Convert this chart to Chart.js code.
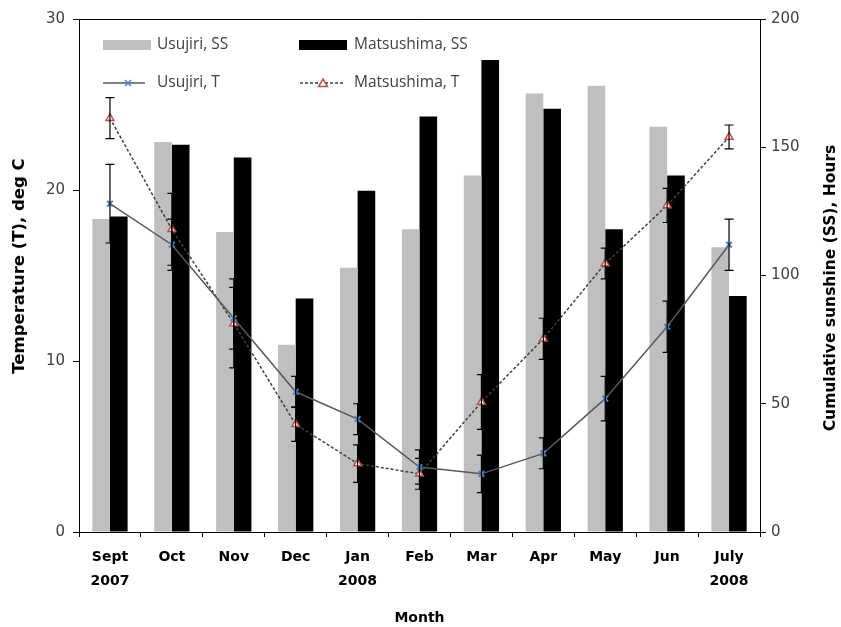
<!DOCTYPE html>
<html>
<head>
<meta charset="utf-8">
<script src="https://cdn.jsdelivr.net/npm/chart.js@4.4.1/dist/chart.umd.min.js"></script>
<style>
  html, body { margin: 0; padding: 0; background: #fff; }
  #wrap { width: 841px; height: 627px; position: relative; }
</style>
</head>
<body>
<div id="wrap"><canvas id="chart" width="841" height="627"></canvas></div>
<script>
const months = [['Sept', '2007'], 'Oct', 'Nov', 'Dec', ['Jan', '2008'], 'Feb', 'Mar', 'Apr', 'May', 'Jun', ['July', '2008']];

// sunshine, hours (right axis)
const usujiriSS    = [122, 152, 117, 73, 103, 118, 139, 171, 174, 158, 111];
const matsushimaSS = [123, 151, 146, 91, 133, 162, 184, 165, 118, 139, 92];

// temperature, deg C (left axis)
const usujiriT     = [19.2, 16.8, 12.5, 8.2, 6.6, 3.8, 3.4, 4.6, 7.8, 12.0, 16.8];
const matsushimaT  = [24.2, 17.7, 12.2, 6.3, 4.0, 3.4, 7.6, 11.3, 15.7, 19.1, 23.1];
const usujiriErr    = [2.3, 1.5, 1.8, 0.9, 0.9, 1.0, 1.1, 0.9, 1.3, 1.5, 1.5];
const matsushimaErr = [1.2, 2.1, 2.6, 1.0, 1.1, 0.9, 1.6, 1.2, 0.9, 1.0, 0.7];

const tempTicks = [0, 10, 20, 30];
const ssTicks = [0, 50, 100, 150, 200];

const TXT = '#404040';

// both axis titles read bottom to top
function vTitle(ctx, text, x, y, size) {
  ctx.save();
  ctx.translate(x, y);
  ctx.rotate(-Math.PI / 2);
  ctx.font = 'bold ' + size + 'px "DejaVu Sans"';
  ctx.fillStyle = '#000';
  ctx.textAlign = 'center';
  ctx.textBaseline = 'middle';
  ctx.fillText(text, 0, 0);
  ctx.restore();
}

// error bars, top border, axis titles
const extras = {
  id: 'extras',
  afterDatasetsDraw(chart) {
    const { ctx, chartArea: a } = chart;
    const xs = chart.scales.x, ys = chart.scales.y;
    ctx.save();
    ctx.strokeStyle = '#000';
    ctx.lineWidth = 1.2;
    [[usujiriT, usujiriErr], [matsushimaT, matsushimaErr]].forEach(([vals, errs]) => {
      vals.forEach((v, i) => {
        const px = xs.getPixelForValue(i);
        const t = ys.getPixelForValue(v + errs[i]);
        const b = ys.getPixelForValue(v - errs[i]);
        ctx.beginPath();
        ctx.moveTo(px, t); ctx.lineTo(px, b);
        ctx.moveTo(px - 4.5, t); ctx.lineTo(px + 4.5, t);
        ctx.moveTo(px - 4.5, b); ctx.lineTo(px + 4.5, b);
        ctx.stroke();
      });
    });
    ctx.lineWidth = 1;
    ctx.beginPath();
    ctx.moveTo(a.left, a.top + 0.5); ctx.lineTo(a.right, a.top + 0.5);
    ctx.stroke();
    ctx.restore();

    vTitle(ctx, 'Temperature (T), deg C', 20, 266, 16.5);
    vTitle(ctx, 'Cumulative sunshine (SS), Hours', 831, 288, 15.5);
  }
};

// legend drawn inside the plot, two rows
const legendBox = {
  id: 'legendBox',
  afterDraw(chart) {
    const ctx = chart.ctx;
    ctx.save();
    ctx.font = '15.5px "Open Sans"';
    ctx.fillStyle = TXT;
    ctx.textBaseline = 'middle';
    ctx.fillText('Usujiri, SS', 157, 45);
    ctx.fillText('Matsushima, SS', 354, 45);
    ctx.fillText('Usujiri, T', 157, 83);
    ctx.fillText('Matsushima, T', 354, 83);

    ctx.fillStyle = '#bfbfbf';
    ctx.fillRect(103, 40, 48, 10);
    ctx.fillStyle = '#000';
    ctx.fillRect(299, 40, 48, 10);

    ctx.strokeStyle = '#595959';
    ctx.lineWidth = 1.5;
    ctx.beginPath(); ctx.moveTo(103, 83); ctx.lineTo(145, 83); ctx.stroke();
    ctx.strokeStyle = '#4f81bd';
    ctx.beginPath();
    ctx.moveTo(125, 80); ctx.lineTo(131, 86);
    ctx.moveTo(131, 80); ctx.lineTo(125, 86);
    ctx.stroke();

    ctx.strokeStyle = '#404040';
    ctx.setLineDash([3, 2]);
    ctx.beginPath(); ctx.moveTo(300, 83); ctx.lineTo(345, 83); ctx.stroke();
    ctx.setLineDash([]);
    ctx.fillStyle = '#fff';
    ctx.strokeStyle = '#c0504d';
    ctx.beginPath();
    ctx.moveTo(323, 79); ctx.lineTo(327.5, 86.5); ctx.lineTo(318.5, 86.5); ctx.closePath();
    ctx.fill(); ctx.stroke();
    ctx.restore();
  }
};

new Chart(document.getElementById('chart'), {
  type: 'bar',
  data: {
    labels: months,
    datasets: [
      { type: 'line', label: 'Usujiri, T', data: usujiriT, yAxisID: 'y', order: 0,
        borderColor: '#595959', borderWidth: 1.5, pointStyle: 'crossRot', pointRadius: 4,
        pointBorderColor: '#4f81bd', pointBorderWidth: 2, tension: 0 },
      { type: 'line', label: 'Matsushima, T', data: matsushimaT, yAxisID: 'y', order: 0,
        borderColor: '#404040', borderWidth: 1.5, borderDash: [3, 2], pointStyle: 'triangle', pointRadius: 4.5,
        pointBorderColor: '#c0504d', pointBackgroundColor: '#fff', pointBorderWidth: 1.5, tension: 0 },
      { label: 'Usujiri, SS', data: usujiriSS, yAxisID: 'y2', order: 1,
        backgroundColor: '#bfbfbf', categoryPercentage: 0.57, barPercentage: 1 },
      { label: 'Matsushima, SS', data: matsushimaSS, yAxisID: 'y2', order: 1,
        backgroundColor: '#000', categoryPercentage: 0.57, barPercentage: 1 }
    ]
  },
  options: {
    responsive: false,
    animation: false,
    layout: { padding: { top: 19 } },
    plugins: { legend: { display: false }, tooltip: { enabled: false } },
    scales: {
      x: {
        offset: true,
        grid: { offset: true, drawOnChartArea: false, tickLength: 5, color: '#000' },
        border: { color: '#000', width: 1 },
        ticks: { color: '#000', padding: 8, maxRotation: 0, autoSkip: false, font: { family: 'DejaVu Sans', size: 14, weight: 'bold', lineHeight: '24px' } },
        title: { display: true, text: 'Month', color: '#000', padding: { top: -2, bottom: 0 }, font: { family: 'DejaVu Sans', size: 14, weight: 'bold' } },
        afterFit: (s) => { s.height = 95; }
      },
      y: {
        position: 'left', min: 0, max: 30,
        afterBuildTicks: (s) => { s.ticks = tempTicks.map((v) => ({ value: v })); },
        grid: { drawOnChartArea: false, tickLength: 6, color: '#000' },
        border: { color: '#000', width: 1 },
        ticks: { color: TXT, padding: 8, font: { family: 'DejaVu Sans', size: 15 } },
        afterFit: (s) => { s.width = 79; }
      },
      y2: {
        position: 'right', min: 0, max: 200,
        afterBuildTicks: (s) => { s.ticks = ssTicks.map((v) => ({ value: v })); },
        grid: { drawOnChartArea: false, tickLength: 6, color: '#000' },
        border: { color: '#000', width: 1 },
        ticks: { color: TXT, padding: 5, font: { family: 'DejaVu Sans', size: 15 } },
        afterFit: (s) => { s.width = 81; }
      }
    }
  },
  plugins: [extras, legendBox]
});
</script>
</body>
</html>
